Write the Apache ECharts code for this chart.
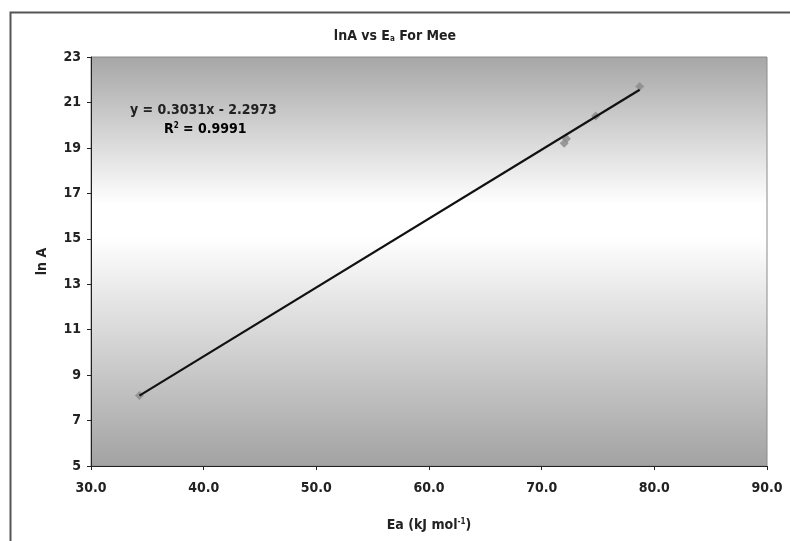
<!DOCTYPE html>
<html><head><meta charset="utf-8">
<script src="https://cdn.jsdelivr.net/npm/echarts@6/dist/echarts.min.js"></script>
<style>html,body{margin:0;padding:0;background:#fff}#c{width:790px;height:541px}</style>
</head><body><div id="c"></div>
<script>
const eaValues = [34.3, 72.0, 72.2, 74.8, 78.7];
const lnAValues = [8.1, 19.2, 19.4, 20.4, 21.7];
const slope = 0.3031, intercept = -2.2973;
const trendX = [34.3, 78.7];
const xTicks = [30, 40, 50, 60, 70, 80, 90];
const yTicks = [5, 7, 9, 11, 13, 15, 17, 19, 21, 23];

const F = '"DejaVu Sans Condensed","Liberation Sans Narrow","Arial Narrow",sans-serif';
const chart = echarts.init(document.getElementById('c'));
chart.setOption({
  animation: false,
  backgroundColor: '#fff',
  grid: {
    left: 91, right: 23, top: 57, bottom: 75, show: true,
    borderColor: '#8a8a8a', borderWidth: 1,
    backgroundColor: new echarts.graphic.LinearGradient(0, 0, 0, 1, [
      {offset: 0, color: '#a6a6a6'},
      {offset: 0.36, color: '#ffffff'},
      {offset: 0.44, color: '#ffffff'},
      {offset: 1, color: '#a2a2a2'}
    ])
  },
  title: {
    text: '{m|lnA vs E}{s|a}{m| For Mee}', left: 'center', top: 24,
    textStyle: {rich: {
      m: {fontFamily: F, fontWeight: 'bold', fontSize: 14, color: '#222'},
      s: {fontFamily: F, fontWeight: 'bold', fontSize: 8, color: '#222', verticalAlign: 'bottom', padding: [6, 0, 0, 0]}
    }}
  },
  xAxis: {
    type: 'value', min: 30, max: 90, interval: 10,
    axisLine: {lineStyle: {color: '#222', width: 1}},
    axisTick: {show: true, length: 4, lineStyle: {color: '#222'}},
    splitLine: {show: false},
    axisLabel: {fontFamily: F, fontWeight: 'bold', fontSize: 14, color: '#222', margin: 15,
      formatter: v => v.toFixed(1)},
    name: '{m|Ea (kJ mol}{s|-1}{m|)}', nameLocation: 'middle', nameGap: 52,
    nameTextStyle: {rich: {
      m: {fontFamily: F, fontWeight: 'bold', fontSize: 14, color: '#222'},
      s: {fontFamily: F, fontWeight: 'bold', fontSize: 8, color: '#222', verticalAlign: 'top', padding: [0, 0, 7, 0]}
    }}
  },
  yAxis: {
    type: 'value', min: 5, max: 23, interval: 2,
    axisLine: {show: true, lineStyle: {color: '#222', width: 1}},
    axisTick: {show: true, length: 4, lineStyle: {color: '#222'}},
    splitLine: {show: false},
    axisLabel: {fontFamily: F, fontWeight: 'bold', fontSize: 14, color: '#222', margin: 10},
    name: 'ln A', nameLocation: 'middle', nameGap: 42,
    nameTextStyle: {fontFamily: F, fontWeight: 'bold', fontSize: 14, color: '#222'}
  },
  series: [
    {
      type: 'scatter', data: eaValues.map((x, i) => [x, lnAValues[i]]),
      symbol: 'diamond', symbolSize: 9, itemStyle: {color: '#8c8c8c', opacity: 0.85}, z: 2
    },
    {
      type: 'line', data: trendX.map(x => [x, slope * x + intercept]),
      symbol: 'none', lineStyle: {color: '#111', width: 2.2}, z: 3
    }
  ],
  graphic: [
    {type: 'rect', left: 8, top: 10, shape: {width: 800, height: 540}, style: {fill: 'none', stroke: '#555', lineWidth: 2}, z: -1, silent: true},
    {type: 'text', left: 130, top: 103, style: {text: 'y = 0.3031x - 2.2973', font: 'bold 14px ' + F, fill: '#222'}},
    {type: 'text', left: 164, top: 122, style: {
      text: '{m|R}{s|2}{m| = 0.9991}',
      rich: {
        m: {fontFamily: F, fontWeight: 'bold', fontSize: 14, color: '#222'},
        s: {fontFamily: F, fontWeight: 'bold', fontSize: 8, color: '#222', verticalAlign: 'top', padding: [0, 0, 7, 0]}
      }}}
  ]
});
</script></body></html>
